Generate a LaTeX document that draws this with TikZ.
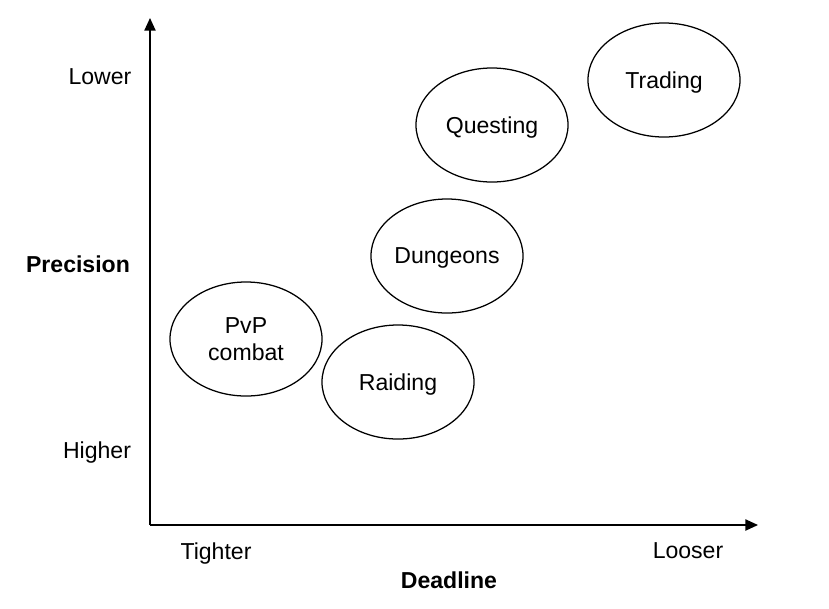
\documentclass[tikz,border=0pt]{standalone}
\usepackage{fontspec}
\setmainfont{Liberation Sans}
\usetikzlibrary{shapes.geometric,arrows.meta}
\begin{document}
\begin{tikzpicture}[x=0.025cm,y=-0.025cm,font=\fontsize{16.4}{19}\selectfont,
  act/.style={draw,ellipse,line width=0.9pt,minimum width=3.8cm,minimum height=2.85cm,inner sep=0pt,align=center},
  word/.style={act,text depth=0pt},
  axis/.style={line width=1pt,-{Triangle[length=9pt,width=8pt]}},
  lbl/.style={inner sep=0pt,text depth=0pt}]
  \useasboundingbox (0,0) rectangle (829,608);
  % axes
  \coordinate (o) at (150,525);
  \coordinate (ytop) at (150,18);
  \coordinate (xend) at (758,525);
  \draw[axis] (o) -- (ytop);
  \draw[axis] (o) -- (xend);
  % axis labels
  \node[lbl] (lower) at (100,77){Lower};
  \node[lbl] (prec) at (78,264){\textbf{Precision}};
  \node[lbl] (higher) at (97,450){Higher};
  \node[lbl] (tight) at (216,551){Tighter};
  \node[lbl] (loose) at (688,551){Looser};
  \node[lbl] (dead) at (449,580){\textbf{Deadline}};
  % activities
  \node[word] (trade) at (664,80){Trading};
  \node[word] (quest) at (492,125){Questing};
  \node[word] (dung) at (447,256){Dungeons};
  \node[act] (pvp) at (246,339){PvP\\combat};
  \node[word] (raid) at (398,382){Raiding};
\end{tikzpicture}
\end{document}
